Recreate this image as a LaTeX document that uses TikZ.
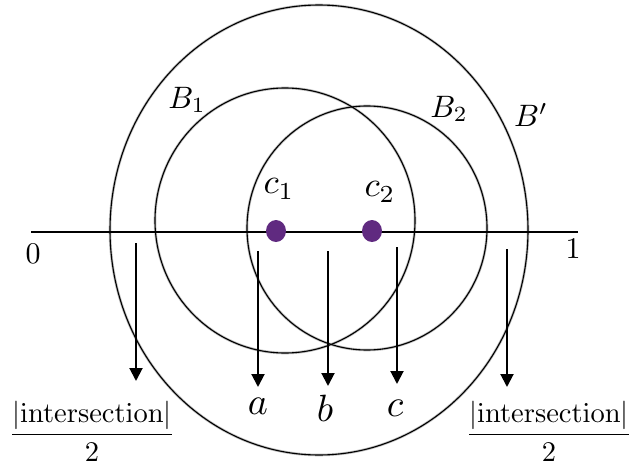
\documentclass[tikz,border=0pt]{standalone}
\usepackage{graphicx}
\usetikzlibrary{arrows.meta}
\definecolor{dotpurple}{RGB}{96,42,128}
\newcommand{\bigtxt}[2][3]{\scalebox{#1}{#2}}
\begin{document}
\begin{tikzpicture}[x=1pt,y=-1pt,
  ring/.style={black,line width=1.1pt},
  ringshade/.style={black!25,line width=2.6pt},
  axis/.style={line width=2.6pt,black},
  proj/.style={line width=2pt,-{Triangle[width=13pt,length=13pt]}},
  dot/.style={fill=dotpurple,draw=none},
  lab/.style={inner sep=0pt}]
\useasboundingbox (0,0) rectangle (630,466);
% balls
\foreach \cx/\cy/\rx/\ry in {319/230/209/225,285/220.5/130/132.5,367/228/120/122}{
  \draw[ringshade] (\cx,\cy) ellipse [x radius=\rx, y radius=\ry];
}
\draw[ring] (319,230) ellipse [x radius=209, y radius=225];
\draw[ring] (285,220.5) ellipse [x radius=130, y radius=132.5];
\draw[ring] (367,228) ellipse [x radius=120, y radius=122];
% axis
\coordinate (L) at (31,232);
\coordinate (R) at (578,232);
\draw[axis] (L) -- (R);
\node[lab] (zero) at (33,254) {\bigtxt{$0$}};
\node[lab] (one) at (573,249) {\bigtxt{$1$}};
% centres
\fill[dot] (276,231) ellipse [x radius=10, y radius=11];
\fill[dot] (372,231) ellipse [x radius=10, y radius=11];
\node[lab] (c1) at (279,189) {\bigtxt[3.5]{$c_1$}};
\node[lab] (c2) at (380,192) {\bigtxt[3.5]{$c_2$}};
\node[lab] (B1) at (187,100) {\bigtxt[3.1]{$B_1$}};
\node[lab] (B2) at (449,109) {\bigtxt[3.1]{$B_2$}};
\node[lab] (Bp) at (531,115) {\bigtxt[3.1]{$B'$}};
% projections
\coordinate (s1) at (136,243); \coordinate (e1) at (136,381);
\coordinate (s2) at (258,251); \coordinate (e2) at (258,387);
\coordinate (s3) at (328,251); \coordinate (e3) at (328,386);
\coordinate (s4) at (397,247); \coordinate (e4) at (397,384);
\coordinate (s5) at (507,249); \coordinate (e5) at (507,387);
\foreach \i in {1,...,5}{\draw[proj] (s\i) -- (e\i);}
\node[lab] (a) at (258,406) {\bigtxt[3.8]{$a$}};
\node[lab] (b) at (325,408) {\bigtxt[3.8]{$b$}};
\node[lab] (c) at (395,408) {\bigtxt[3.8]{$c$}};
\node[lab] (fl) at (92,431) {\bigtxt[2.85]{$\displaystyle\frac{|\mathrm{intersection}|}{2}$}};
\node[lab] (fr) at (549,431) {\bigtxt[2.85]{$\displaystyle\frac{|\mathrm{intersection}|}{2}$}};
\end{tikzpicture}
\end{document}
